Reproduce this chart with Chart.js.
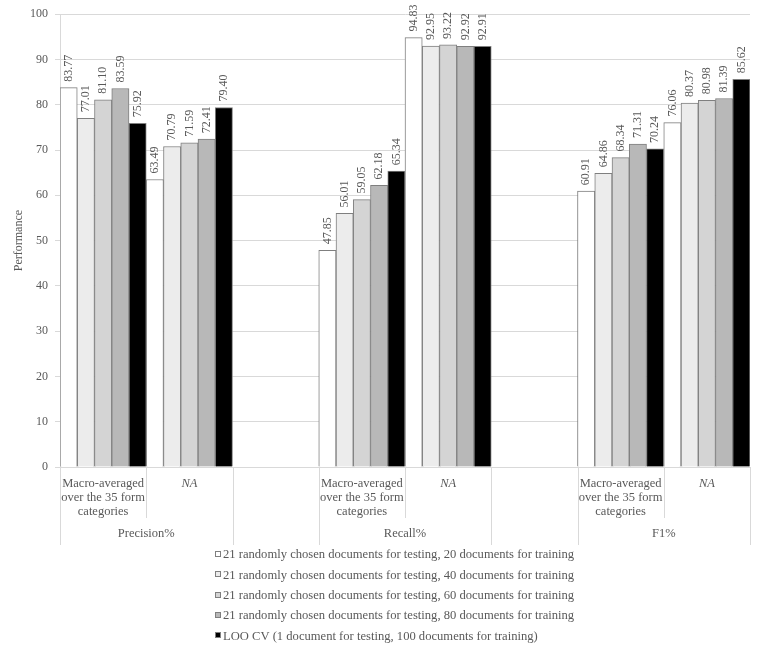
<!DOCTYPE html>
<html>
<head>
<meta charset="utf-8">
<script src="https://cdn.jsdelivr.net/npm/chart.js@4.4.1/dist/chart.umd.min.js"></script>
<style>
html,body{margin:0;padding:0;background:#fff;}
#wrap{width:767px;height:649px;position:relative;}
</style>
</head>
<body>
<div id="wrap"><canvas id="c" width="767" height="649"></canvas></div>
<script>
// ---- data ----
const categories = [
  ['Macro-averaged','over the 35 form','categories'], ['NA'], [''],
  ['Macro-averaged','over the 35 form','categories'], ['NA'], [''],
  ['Macro-averaged','over the 35 form','categories'], ['NA']
];
const parentLabels = ['Precision%','Precision%','','Recall%','Recall%','','F1%','F1%'];
const seriesNames = [
  '21 randomly chosen documents for testing, 20 documents for training',
  '21 randomly chosen documents for testing, 40 documents for training',
  '21 randomly chosen documents for testing, 60 documents for training',
  '21 randomly chosen documents for testing, 80 documents for training',
  'LOO CV (1 document for testing, 100 documents for training)'
];
const train20 = [83.77, 63.49, null, 47.85, 94.83, null, 60.91, 76.06];
const train40 = [77.01, 70.79, null, 56.01, 92.95, null, 64.86, 80.37];
const train60 = [81.10, 71.59, null, 59.05, 93.22, null, 68.34, 80.98];
const train80 = [83.59, 72.41, null, 62.18, 92.92, null, 71.31, 81.39];
const looCV   = [75.92, 79.40, null, 65.34, 92.91, null, 70.24, 85.62];
const yTicks = [0,10,20,30,40,50,60,70,80,90,100];
const yTitle = 'Performance';

const fills = ['#ffffff','#ececec','#d4d4d4','#b8b8b8','#000000'];
const seriesValues = [train20, train40, train60, train80, looCV];
const SERIF = '"Liberation Serif","Times New Roman",serif';
const TXT = '#595959';
const GRID = '#d9d9d9';

const datasets = seriesValues.map((v,i)=>({
  label: seriesNames[i],
  data: v,
  backgroundColor: fills[i],
  borderColor: '#7f7f7f',
  borderWidth: 1,
  categoryPercentage: 1.0,
  barPercentage: 1.0
}));

const labelsPlugin = {
  id: 'customText',
  afterDatasetsDraw(chart) {
    const ctx = chart.ctx;
    ctx.save();
    ctx.font = '12px ' + SERIF;
    ctx.fillStyle = TXT;
    ctx.textAlign = 'left';
    ctx.textBaseline = 'middle';
    chart.data.datasets.forEach((ds, di) => {
      const meta = chart.getDatasetMeta(di);
      meta.data.forEach((bar, i) => {
        const v = ds.data[i];
        if (v === null || v === undefined) return;
        ctx.save();
        ctx.translate(bar.x, bar.y - 6);
        ctx.rotate(-Math.PI/2);
        ctx.fillText(v.toFixed(2), 0, 0);
        ctx.restore();
      });
    });
    ctx.restore();
  },
  afterDraw(chart) {
    const ctx = chart.ctx;
    const xs = chart.scales.x;
    const area = chart.chartArea;
    const n = categories.length;
    const w = (xs.right - xs.left) / n;
    const base = area.bottom;
    ctx.save();
    // separators
    ctx.strokeStyle = GRID;
    ctx.lineWidth = 1;
    for (let k = 0; k <= n; k++) {
      const x = Math.round(xs.left + k*w) + 0.5;
      const leftP = k > 0 ? parentLabels[k-1] : null;
      const rightP = k < n ? parentLabels[k] : null;
      const inner = leftP && rightP && leftP === rightP;
      ctx.beginPath();
      ctx.moveTo(x, base);
      ctx.lineTo(x, base + (inner ? 51 : 78));
      ctx.stroke();
    }
    // sub labels
    ctx.fillStyle = TXT;
    ctx.textAlign = 'center';
    ctx.textBaseline = 'middle';
    categories.forEach((lines, i) => {
      const cx = xs.getPixelForValue(i);
      lines.forEach((t, j) => {
        ctx.font = (t === 'NA' ? 'italic ' : '') + '12.5px ' + SERIF;
        ctx.fillText(t, cx, base + 17 + j*14);
      });
    });
    // parent labels
    ctx.font = '12.5px ' + SERIF;
    let i = 0;
    while (i < n) {
      const p = parentLabels[i];
      let j = i;
      while (j + 1 < n && parentLabels[j+1] === p) j++;
      if (p) {
        const cx = xs.left + ((i + j + 1) / 2) * w;
        ctx.fillText(p, cx, base + 67);
      }
      i = j + 1;
    }
    // legend
    ctx.textAlign = 'left';
    ctx.font = '12.6px ' + SERIF;
    chart.data.datasets.forEach((ds, k) => {
      const y = 554 + k * 20.3;
      ctx.fillStyle = ds.backgroundColor;
      ctx.fillRect(215, Math.round(y - 3), 6, 6);
      ctx.strokeStyle = '#7f7f7f';
      ctx.strokeRect(215.5, Math.round(y - 3) + 0.5, 5, 5);
      ctx.fillStyle = TXT;
      ctx.fillText(ds.label, 223, y + 1);
    });
    ctx.restore();
  }
};

new Chart(document.getElementById('c'), {
  type: 'bar',
  data: { labels: categories.map(l => l.join(' ')), datasets },
  options: {
    responsive: false,
    animation: false,
    devicePixelRatio: 1,
    layout: { padding: { top: 11, right: 17, bottom: 0, left: 0 } },
    plugins: { legend: { display: false }, tooltip: { enabled: false } },
    scales: {
      x: {
        ticks: { display: false },
        grid: { display: false },
        border: { color: GRID, width: 1 },
        afterFit(s) { s.height = 182; }
      },
      y: {
        min: 0, max: 100,
        afterBuildTicks(s) { s.ticks = yTicks.map(v => ({ value: v })); },
        ticks: { color: TXT, font: { family: SERIF, size: 12 }, padding: 7 },
        grid: { color: GRID, tickLength: 5, drawTicks: true },
        border: { color: GRID, width: 1 },
        title: { display: true, text: yTitle, color: TXT, font: { family: SERIF, size: 12 }, padding: { top: 12, bottom: 0 } },
        afterFit(s) { s.width = 60; }
      }
    }
  },
  plugins: [labelsPlugin]
});
</script>
</body>
</html>
